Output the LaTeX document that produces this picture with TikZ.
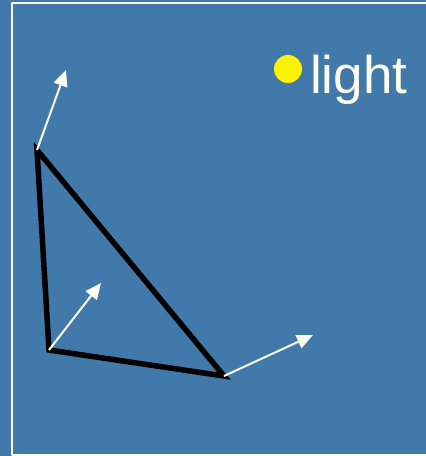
\documentclass[tikz,border=0pt]{standalone}
\usepackage{fontspec}
\setmainfont{Liberation Sans}
\usetikzlibrary{arrows.meta,positioning}
\definecolor{sfondo}{RGB}{65,121,171}
\definecolor{bianco}{RGB}{255,255,240}
\begin{document}
\begin{tikzpicture}[x=1pt,y=-1pt,line join=round,line cap=round,
    bordo/.style={line width=2pt,white},
    lato/.style={line width=5.5pt,black,line join=miter,line cap=butt},
    normale/.style={line width=2pt,bianco,line cap=butt,
                    -{Triangle[length=16pt,width=14pt]}},
    luce/.style={circle,fill=yellow,inner sep=0pt,minimum size=28pt}]

  % sfondo e cornice
  \fill[sfondo] (0,0) rectangle (426,456);
  \useasboundingbox (0,0) rectangle (426,456);
  \begin{scope}
    \clip (0,0) rectangle (426,456);
    \draw[bordo] (12,3) rectangle (440,455);
  \end{scope}

  % ---- la sorgente di luce -------------------------------------------------
  \node[luce] (L) at (288,69) {};
  \node[anchor=base west,inner sep=0pt,text=bianco,
        font=\fontsize{53}{62}\selectfont] (T) at (310,93) {light};

  % ---- i vertici del triangolo ---------------------------------------------
  \coordinate (A) at (37,150);
  \coordinate (B) at (49,350);
  \coordinate (C) at (224,376);

  % ---- le punte delle normali ----------------------------------------------
  \coordinate (NA) at (66,70);
  \coordinate (NB) at (101,283);
  \coordinate (NC) at (313,335);

  \draw[lato] (A) -- (B) -- (C) -- cycle;

  \draw[normale] (A) -- (NA);
  \draw[normale] (B) -- (NB);
  \draw[normale] (C) -- (NC);

\end{tikzpicture}
\end{document}
